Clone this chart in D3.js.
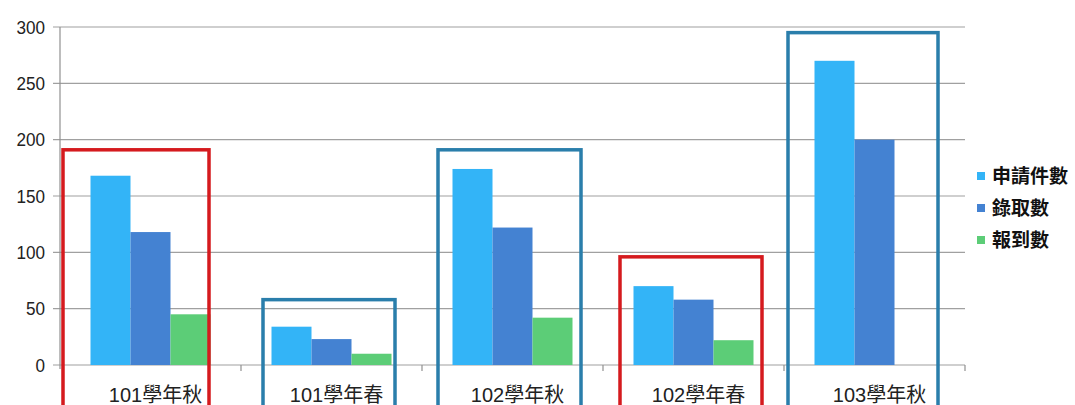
<!DOCTYPE html>
<html><head><meta charset="utf-8">
<script src="https://cdn.jsdelivr.net/npm/d3@7"></script>
<style>body{margin:0;background:#fff;}svg{display:block;}</style>
</head><body>
<svg id="c" width="1075" height="405"></svg>
<script>
const categories = ["101學年秋","101學年春","102學年秋","102學年春","103學年秋"];
const seriesNames = ["申請件數","錄取數","報到數"];
const applied  = [168, 34, 174, 70, 270];
const admitted = [118, 23, 122, 58, 200];
const enrolled = [45, 10, 42, 22, 0];
const yTicks = [0, 50, 100, 150, 200, 250, 300];
// annotation boxes: top value in data units
const boxTops  = [191, 58, 191, 96, 295];
const boxKinds = ["red","blue","blue","red","blue"];

const colors = ["#33b4f7","#4482d2","#5ccd77"];
const boxColors = {red:"#d51a1e", blue:"#2a7eab"};
// left/right padding of each box around its bar group (px)
const boxPad = [[27.5,-1.5],[8.5,3.5],[14.5,8.5],[13.5,8.5],[26.5,3.5]];

const svg = d3.select("#c");
const m = {l:60, r:965, t:27, b:365};
const groupW = 120;
const x0 = d3.scaleBand().domain(categories).range([m.l, m.r]).paddingInner(0).paddingOuter(0);
const x1 = d3.scaleBand().domain(seriesNames).range([0, groupW]);
const y = d3.scaleLinear().domain([0,300]).range([m.b, m.t]);
const gx = d => x0(d) + x0.bandwidth()/2 - groupW/2;

// gridlines
svg.append("g").selectAll("line").data(yTicks).join("line")
  .attr("x1", m.l-7).attr("x2", m.r).attr("y1", d=>y(d)).attr("y2", d=>y(d))
  .attr("stroke", "#a0a0a0").attr("stroke-width", 1.2);
// y axis line
svg.append("line").attr("x1", m.l).attr("x2", m.l).attr("y1", m.t).attr("y2", m.b+4)
  .attr("stroke", "#909090").attr("stroke-width", 1.2);
// category ticks
svg.append("g").selectAll("line").data(categories).join("line")
  .attr("x1", d=> x0(d)+x0.bandwidth()).attr("x2", d=> x0(d)+x0.bandwidth())
  .attr("y1", m.b).attr("y2", m.b+6).attr("stroke", "#909090").attr("stroke-width", 1.2);

// y tick labels
svg.append("g").selectAll("text").data(yTicks).join("text")
  .attr("x", 45).attr("y", d=>y(d)).attr("dy","0.36em").attr("text-anchor","end")
  .attr("font-family","Liberation Sans, Arial, sans-serif").attr("font-size", 18).attr("fill","#222")
  .attr("transform", d=>`translate(45,${y(d)}) scale(0.95,1.05) translate(-45,${-y(d)})`)
  .text(d=>d);

// bars
const series = [applied, admitted, enrolled];
const groups = svg.append("g").selectAll("g").data(categories).join("g")
  .attr("transform", d=>`translate(${gx(d)},0)`);
groups.selectAll("rect").data((d,i)=>series.map((s,j)=>({name:seriesNames[j], v:s[i], j})))
  .join("rect")
  .attr("x", d=>x1(d.name)).attr("width", x1.bandwidth())
  .attr("y", d=>y(d.v)).attr("height", d=>y(0)-y(d.v))
  .attr("fill", d=>colors[d.j]);

// category labels
svg.append("g").selectAll("text").data(categories).join("text")
  .attr("x", d=>x0(d)+x0.bandwidth()/2+5).attr("y", 395).attr("dy","0.36em").attr("text-anchor","middle")
  .attr("font-family","Liberation Sans, 'Noto Sans CJK TC', sans-serif").attr("font-size", 20).attr("fill","#222")
  .text(d=>d);

// annotation boxes
svg.append("g").selectAll("rect").data(categories).join("rect")
  .attr("x", (d,i)=> gx(d) - boxPad[i][0])
  .attr("width", (d,i)=> groupW + boxPad[i][0] + boxPad[i][1])
  .attr("y", (d,i)=> y(boxTops[i]))
  .attr("height", (d,i)=> 420 - y(boxTops[i]))
  .attr("fill","none").attr("stroke", (d,i)=>boxColors[boxKinds[i]]).attr("stroke-width", 3.5);

// legend
const lg = svg.append("g").selectAll("g").data(seriesNames).join("g")
  .attr("transform", (d,i)=>`translate(977,${176 + i*32})`);
lg.append("rect").attr("x",0).attr("y",-4).attr("width",8).attr("height",8).attr("fill",(d,i)=>colors[i]);
lg.append("text").attr("x",15).attr("y",0).attr("dy","0.36em")
  .attr("font-family","'Noto Sans CJK TC', sans-serif").attr("font-size",19).attr("font-weight","bold").attr("fill","#111")
  .text(d=>d);
</script>
</body></html>
